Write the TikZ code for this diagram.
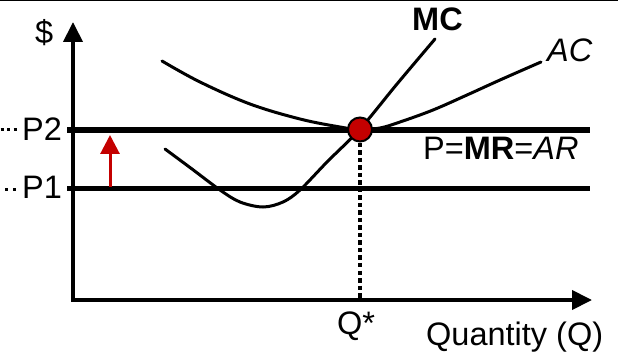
\documentclass[tikz,border=0pt]{standalone}
\usepackage{fontspec}
\setmainfont{Liberation Sans}
\usetikzlibrary{arrows.meta}
\definecolor{dotred}{RGB}{196,0,0}
\begin{document}
\begin{tikzpicture}[x=1pt,y=-1pt,
  lbl/.style={inner sep=0pt, anchor=base west, font=\fontsize{32.5}{34}\selectfont},
  axisline/.style={line width=4pt, line join=miter,
     {Triangle[length=20pt,width=19pt]}-{Triangle[length=20pt,width=19pt]}},
  priceline/.style={line width=#1},
  curveline/.style={line width=3pt, line cap=round},
  dotsline/.style={line width=3pt, dash pattern=on 3pt off 3.5pt},
  dropline/.style={line width=3.5pt, dash pattern=on 4.5pt off 3pt},
  risearrow/.style={line width=3pt, draw=dotred, -{Triangle[length=19pt,width=19pt]}, fill=dotred}
]
\useasboundingbox (0,0) rectangle (618,355);
\draw[line width=1.5pt] (0,0.75) -- (618,0.75);

% axes
\coordinate (ytop) at (73,22);
\coordinate (O) at (73,300);
\coordinate (xend) at (592,300);
\draw[axisline] (ytop) -- (O) -- (xend);

% labels
\node[lbl] (dollar) at (35,44) {\$};
\node[lbl] (p2) at (22,140.5) {P2};
\node[lbl] (p1) at (22,198.5) {P1};
\node[lbl, font=\fontsize{32.5}{34}\selectfont\bfseries] (mc) at (412,31) {MC};
\node[lbl, font=\fontsize{32.5}{34}\selectfont\itshape] (ac) at (547,62) {AC};
\node[lbl] (pmr) at (423,160) {P=\textbf{MR}=\textit{AR}};
\node[lbl] (qstar) at (337,334) {Q*};
\node[lbl] (qty) at (426,345) {Quantity (Q)};

% leading dots
\coordinate (d2a) at (0.5,130); \coordinate (d2b) at (18,130);
\coordinate (d1a) at (5,190); \coordinate (d1b) at (18,190);
\draw[dotsline] (d2a) -- (d2b);
\draw[dotsline, dash pattern=on 3pt off 5pt] (d1a) -- (d1b);

% price lines
\coordinate (p2l) at (67,130); \coordinate (p2r) at (590,130);
\coordinate (p1l) at (67,189); \coordinate (p1r) at (590,189);
\draw[priceline=6.5pt] (p2l) -- (p2r);
\draw[priceline=5pt] (p1l) -- (p1r);

% red arrow
\coordinate (ra) at (110,187);
\coordinate (rb) at (110,135);
\draw[risearrow] (ra) -- (rb);

% AC curve
\draw[curveline] plot[smooth, tension=0.6] coordinates {(162,61) (200,82) (250,104) (300,119) (340,127) (360,129.5) (380,128) (400,122) (433,110) (467,95) (500,80) (541,62)};

% MC curve
\draw[curveline] plot[smooth, tension=0.55] coordinates {(165,149) (192,169) (220,190) (240,202) (263,207) (283,202) (300,190) (327,162) (360,129) (397,84) (435,39)};

% Q* drop line
\coordinate (eq) at (360,129.5);
\coordinate (qbase) at (360,298);
\draw[dropline] (360,143) -- (qbase);

% equilibrium dot
\node[circle, minimum size=24pt, inner sep=0pt, fill=dotred, draw=black, line width=2pt] (dot) at (eq) {};
\end{tikzpicture}
\end{document}
